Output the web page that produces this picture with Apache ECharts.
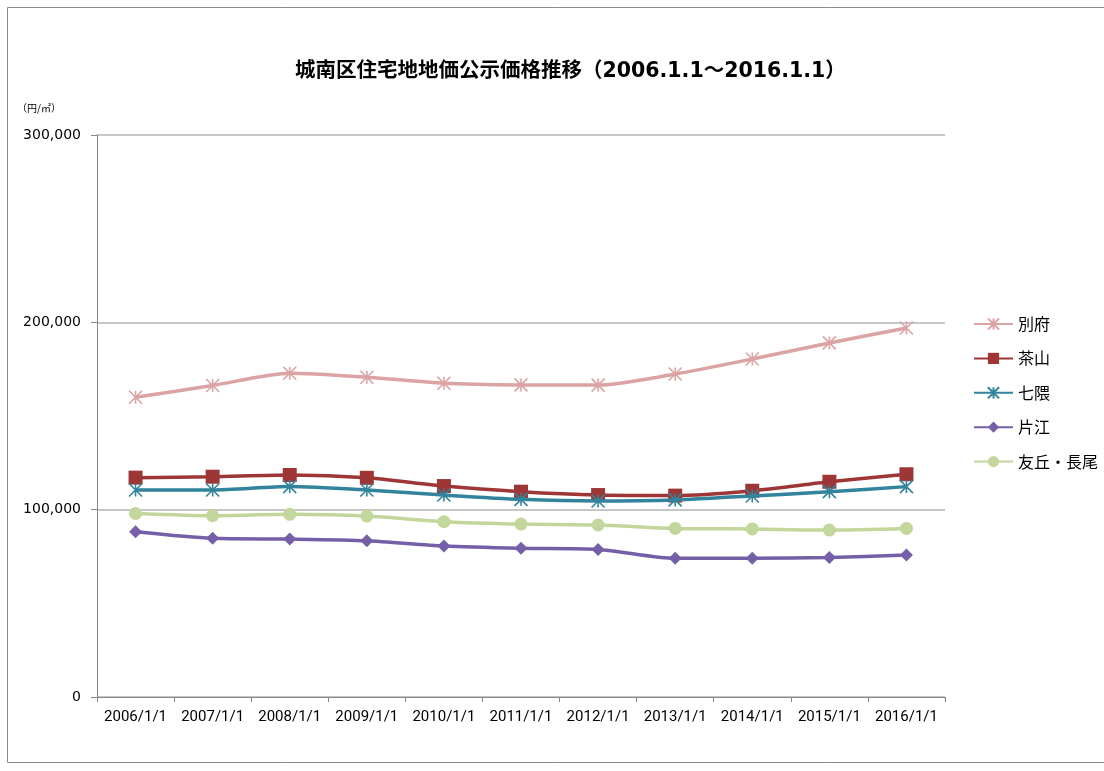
<!DOCTYPE html>
<html>
<head>
<meta charset="utf-8">
<script src="https://cdn.jsdelivr.net/npm/echarts@6/dist/echarts.min.js"></script>
<style>
html,body{margin:0;padding:0;background:#fff;}
#chart{width:1104px;height:771px;}
</style>
</head>
<body>
<div id="chart"></div>
<script>
const titleText = '城南区住宅地地価公示価格推移（2006.1.1～2016.1.1）';
const unitText = '（円/㎡）';
const categories = ['2006/1/1','2007/1/1','2008/1/1','2009/1/1','2010/1/1','2011/1/1','2012/1/1','2013/1/1','2014/1/1','2015/1/1','2016/1/1'];
const seriesNames = ['別府','茶山','七隈','片江','友丘・長尾'];
const beppu    = [160000,166300,172800,170700,167500,166600,166500,172400,180400,189000,197000];
const chayama  = [117100,117600,118500,117000,112600,109600,107800,107500,110100,114900,118900];
const nanakuma = [110500,110500,112300,110500,107800,105500,104600,105200,107300,109600,112300];
const katae    = [88200,84700,84300,83400,80600,79400,78800,74000,74000,74500,75800];
const tomooka  = [98000,96800,97500,96600,93600,92300,91800,90000,89700,89100,90000];
const yTicks = [0,100000,200000,300000];

const asterisk = 'path://M0 0L10 10M10 0L0 10M5 0L5 10';
const colors = ['#dba3a3','#9e3636','#31849b','#7560a8','#c3d69b'];
const data = [beppu, chayama, nanakuma, katae, tomooka];
const symbols = [asterisk,'rect',asterisk,'diamond','circle'];
const sizes = [13,14,13,13,13];

const chart = echarts.init(document.getElementById('chart'));
chart.setOption({
  animation:false,
  backgroundColor:'#fff',
  title:{
    text:titleText,
    left:290, top:56, padding:5,
    textStyle:{fontFamily:"'DejaVu Sans','Noto Sans CJK JP',sans-serif",fontSize:20.5,fontWeight:'bold',color:'#000'}
  },
  graphic:[
    {type:'rect',silent:true,shape:{x:7.5,y:7.5,width:1200,height:755},style:{fill:'none',stroke:'#8a8a8a',lineWidth:1}},
    {type:'text',silent:true,x:17,y:108,style:{text:unitText,fontSize:10,fontFamily:"'Noto Sans CJK JP',sans-serif",fill:'#000',verticalAlign:'middle'}}
  ],
  legend:{
    orient:'vertical',
    left:973, top:316, padding:0,
    itemWidth:39, itemHeight:14, itemGap:18.4,
    textStyle:{fontFamily:"'Noto Sans CJK JP',sans-serif",fontSize:16,color:'#000'},
    data:seriesNames
  },
  grid:{left:97,right:159,top:135,bottom:74,containLabel:false,outerBoundsMode:'none'},
  xAxis:{
    type:'category',
    data:categories,
    boundaryGap:true,
    axisLine:{show:true,lineStyle:{color:'#868686',width:1}},
    axisTick:{show:true,length:5,lineStyle:{color:'#868686'}},
    axisLabel:{color:'#000',fontFamily:"Roboto,sans-serif",fontSize:15,margin:13,interval:0}
  },
  yAxis:{
    type:'value',
    min:yTicks[0], max:yTicks[yTicks.length-1], interval:100000,
    axisLine:{show:true,lineStyle:{color:'#868686',width:1}},
    axisTick:{show:true,length:6,lineStyle:{color:'#868686'}},
    splitLine:{show:true,lineStyle:{color:'#b3b3b3',width:1.5}},
    axisLabel:{color:'#000',fontFamily:"'DejaVu Sans',sans-serif",fontSize:14,margin:16,
      formatter:v=>v.toLocaleString('en-US')}
  },
  series:seriesNames.map((n,i)=>({
    name:n,
    type:'line',
    data:data[i],
    smooth:0.25,
    symbol:symbols[i],
    symbolSize:sizes[i],
    showAllSymbol:true,
    lineStyle:{color:colors[i],width:3.5},
    itemStyle:{color:colors[i],borderColor:colors[i],borderWidth:(symbols[i]===asterisk?1.6:0)},
    z:2+i
  }))
});
</script>
</body>
</html>
